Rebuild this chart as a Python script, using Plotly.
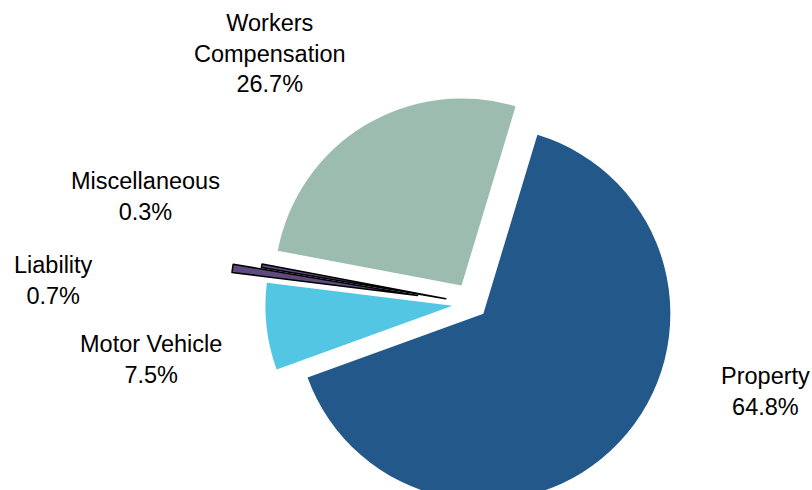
import plotly.graph_objects as go

# Share of claims by line of coverage (%)
categories = ["Property", "Motor Vehicle", "Liability", "Miscellaneous", "Workers Compensation"]
shares = [64.8, 7.5, 0.7, 0.3, 26.7]
label_lines = [["Property"], ["Motor Vehicle"], ["Liability"], ["Miscellaneous"], ["Workers", "Compensation"]]

colors = ["#22588A", "#53C6E3", "#5D4A7E", "#5D4A7E", "#9DBCB0"]
pulls = [0.08, 0.108, 0.297, 0.145, 0.113]
edge_widths = [0, 0, 1.5, 1.5, 0]

W, H = 812, 560          # canvas is taller than the view so the exploded pie can sit low
cx, cy, radius = 472.5, 303.5, 187.0   # pie centre (px from top-left) and radius
half = radius * (1 + max(pulls))

fig = go.Figure(
    go.Pie(
        labels=categories,
        values=shares,
        sort=False,
        direction="clockwise",
        rotation=16.8,
        pull=pulls,
        textinfo="none",
        hoverinfo="label+percent",
        marker=dict(colors=colors, line=dict(color="black", width=edge_widths)),
        domain=dict(
            x=[(cx - half) / W, (cx + half) / W],
            y=[(H - cy - half) / H, (H - cy + half) / H],
        ),
        showlegend=False,
    )
)

# label block centres (px from top-left)
label_pos = [(765, 391), (151, 359.5), (53, 280.5), (145.5, 196.5), (270, 53)]
for lines, val, (lx, ly) in zip(label_lines, shares, label_pos):
    fig.add_annotation(
        x=lx / W, y=(H - ly) / H, xref="paper", yref="paper",
        text="<br>".join(lines + [f"{val:.1f}%"]),
        showarrow=False, xanchor="center", yanchor="middle", align="center",
        font=dict(family="Liberation Sans, Arial, sans-serif", size=23.5, color="#000000"),
    )

fig.update_layout(
    width=W, height=H,
    margin=dict(l=0, r=0, t=0, b=0),
    paper_bgcolor="white", plot_bgcolor="white",
)

fig.write_html("out.html", post_script="document.body.style.overflow = 'hidden';")
